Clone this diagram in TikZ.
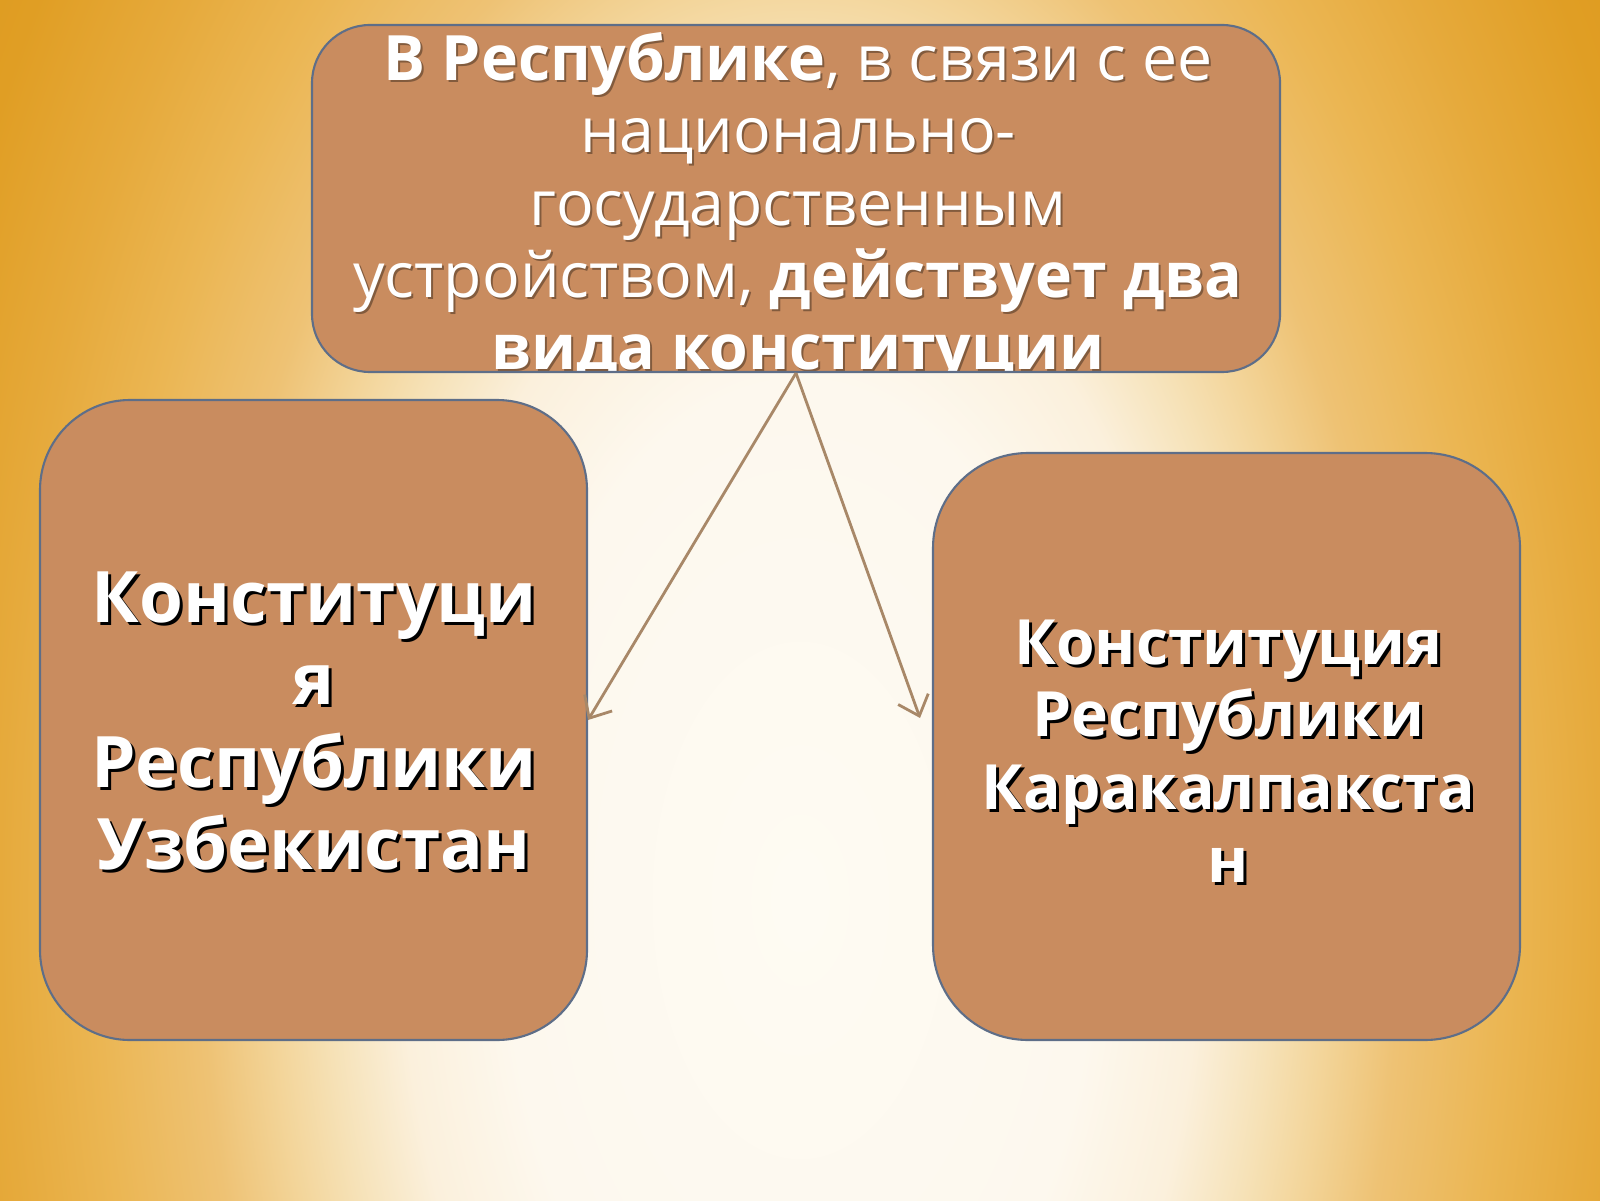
\documentclass[tikz,border=0pt]{standalone}
\usepackage{fontspec}
\setmainfont{Open Sans}
\usetikzlibrary{arrows.meta,positioning}

\definecolor{boxfill}{HTML}{C98C5F}
\definecolor{boxline}{HTML}{5E6E88}
\definecolor{arrowcol}{HTML}{A88868}

\pgfdeclareradialshading{slidebg}{\pgfpoint{0bp}{0bp}}{%
  color(0bp)=(rgb,255:red,254;green,251;blue,243);
  color(37bp)=(rgb,255:red,253;green,248;blue,238);
  color(50bp)=(rgb,255:red,251;green,240;blue,220);
  color(59bp)=(rgb,255:red,246;green,226;blue,184);
  color(66bp)=(rgb,255:red,243;green,213;blue,154);
  color(75bp)=(rgb,255:red,238;green,194;blue,116);
  color(88bp)=(rgb,255:red,235;green,182;blue,83);
  color(100bp)=(rgb,255:red,230;green,170;blue,60);
  color(115bp)=(rgb,255:red,224;green,158;blue,36);
  color(140bp)=(rgb,255:red,219;green,150;blue,24)}

\tikzset{
  box/.style={draw=boxline, line width=0.6pt, fill=boxfill, rounded corners=#1, inner sep=0pt},
  toptext/.style={text=white, align=center, font=\fontsize{17.8}{20.6}\selectfont},
  lefttext/.style={text=white, align=center, font=\bfseries\fontsize{20.2}{23.4}\selectfont},
  righttext/.style={text=white, align=center, font=\bfseries\fontsize{17.75}{20.7}\selectfont},
  shade top/.style={text=black, opacity=0.35},
  shade side/.style={text=black},
  conn/.style={draw=arrowcol, line width=0.8pt, -{Straight Barb[length=1.8mm,width=3.2mm]}}
}

\newcommand{\toplines}{\textbf{В Республике}, в связи с ее\\национально-\\государственным\\устройством, \textbf{действует два}\\\textbf{вида конституции}}
\newcommand{\uzblines}{Конституци\\я\\Республики\\Узбекистан}
\newcommand{\karlines}{Конституция\\Республики\\Каракалпакста\\н}

\begin{document}
\begin{tikzpicture}
  % background
  \useasboundingbox (0,0) rectangle (16,12);
  \begin{scope}
    \clip (0,0) rectangle (16,12);
    \node[inner sep=0pt, xscale=2.268, yscale=3.968, transform shape] (bg) at (8,3) {\pgfuseshading{slidebg}};
  \end{scope}

  % top box, its text is cut by the border
  \node[box=0.58cm, minimum width=9.68cm, minimum height=3.47cm,
    path picture={
      \node[toptext, shade top] at ([shift={(0.04,-0.12)}]path picture bounding box.center) {\toplines};
      \node[toptext] at ([shift={(0.02,-0.10)}]path picture bounding box.center) {\toplines};
    }] (top) at (7.96,10.015) {};

  % the two constitutions
  \node[box=0.9cm, minimum width=5.47cm, minimum height=6.40cm] (lbox) at (3.135,4.80) {};
  \node[box=0.95cm, minimum width=5.87cm, minimum height=5.87cm] (rbox) at (12.265,4.535) {};

  \node[lefttext, shade side] at (3.17,4.76) {\uzblines};
  \node[lefttext] (ltext) at (3.14,4.79) {\uzblines};
  \node[righttext, shade side] at (12.315,4.46) {\karlines};
  \node[righttext] (rtext) at (12.285,4.49) {\karlines};

  % arrows
  \coordinate (rtip) at (9.20,4.82);
  \draw[conn] (top.south) -- (lbox.east);
  \draw[conn] (top.south) -- (rtip);
\end{tikzpicture}
\end{document}
